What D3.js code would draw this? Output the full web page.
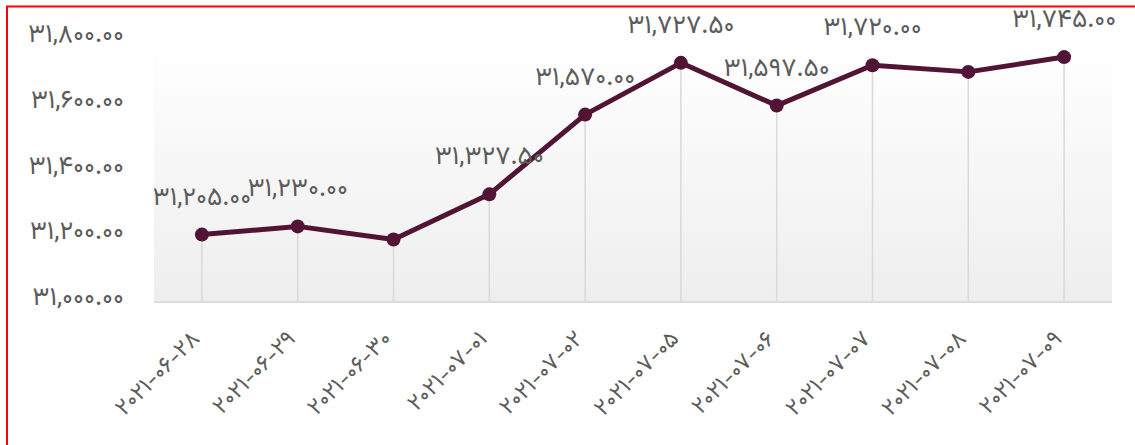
<!DOCTYPE html>
<html>
<head>
<meta charset="utf-8">
<script src="https://cdn.jsdelivr.net/npm/d3@7"></script>
<style>
  body { margin: 0; background: #fff; }
  svg { display: block; font-family: "Vazirmatn", "DejaVu Sans", sans-serif; }
</style>
</head>
<body>
<svg id="chart" width="1135" height="445"></svg>
<script>
const dates = ["2021-06-28", "2021-06-29", "2021-06-30", "2021-07-01", "2021-07-02",
  "2021-07-05", "2021-07-06", "2021-07-07", "2021-07-08", "2021-07-09"];
const prices = [31205, 31230, 31190, 31327.5, 31570, 31727.5, 31597.5, 31720, 31700, 31745];
// labels that the original chart shows (two are hidden there)
const showLabel = [true, true, false, true, true, true, true, true, false, true];
const yTicks = [31000, 31200, 31400, 31600, 31800];

const width = 1135, height = 445;
const margin = { top: 39, right: 23, bottom: 143, left: 154 };

const faDigits = "۰۱۲۳۴۵۶۷۸۹";
const toFa = (s) => String(s).replace(/[0-9]/g, (d) => faDigits[+d]);
const fmt = d3.format(",.2f");

const svg = d3.select("#chart");

// red frame of the host page
svg.append("path")
  .attr("d", `M7,${height + 10}V6.5H${width + 10}`)
  .attr("fill", "none")
  .attr("stroke", "#ff0000")
  .attr("stroke-width", 2);

const x = d3.scaleBand()
  .domain(dates)
  .range([margin.left, width - margin.right]);

const y = d3.scaleLinear()
  .domain([31000, 31800])
  .range([height - margin.bottom, margin.top]);

const defs = svg.append("defs");
const grad = defs.append("linearGradient")
  .attr("id", "bg")
  .attr("x1", 0).attr("y1", 0).attr("x2", 0).attr("y2", 1);
grad.append("stop").attr("offset", "0%").attr("stop-color", "#ffffff");
grad.append("stop").attr("offset", "100%").attr("stop-color", "#eeeeee");

svg.append("rect")
  .attr("x", margin.left)
  .attr("y", margin.top)
  .attr("width", width - margin.left - margin.right)
  .attr("height", height - margin.top - margin.bottom)
  .attr("fill", "url(#bg)");

// y axis labels
svg.append("g")
  .selectAll("text")
  .data(yTicks)
  .join("text")
  .attr("x", 124)
  .attr("y", (d) => y(d) + 3)
  .attr("text-anchor", "end")
  .attr("fill", "#5c5c5c")
  .style("font-size", "26px")
  .text((d) => toFa(fmt(d)));

const cx = (d) => x(d) + x.bandwidth() / 2;

// drop lines
svg.append("g")
  .selectAll("line")
  .data(dates)
  .join("line")
  .attr("x1", cx)
  .attr("x2", cx)
  .attr("y1", (d, i) => y(prices[i]))
  .attr("y2", height - margin.bottom)
  .attr("stroke", "#d9d9d9")
  .attr("stroke-width", 1.5);

// x axis baseline
svg.append("line")
  .attr("x1", margin.left)
  .attr("x2", width - margin.right)
  .attr("y1", height - margin.bottom)
  .attr("y2", height - margin.bottom)
  .attr("stroke", "#dcdcdc")
  .attr("stroke-width", 2);

// x axis labels
svg.append("g")
  .selectAll("text")
  .data(dates)
  .join("text")
  .attr("transform", (d) => `translate(${cx(d) - 1},${height - margin.bottom + 38}) rotate(-45)`)
  .attr("text-anchor", "end")
  .attr("fill", "#5c5c5c")
  .style("font-size", "23px")
  .text((d) => toFa(d));

const line = d3.line()
  .x((d, i) => cx(dates[i]))
  .y((d) => y(d));

svg.append("path")
  .datum(prices)
  .attr("d", line)
  .attr("fill", "none")
  .attr("stroke", "#521435")
  .attr("stroke-width", 5)
  .attr("stroke-linejoin", "round");

svg.append("g")
  .selectAll("circle")
  .data(prices)
  .join("circle")
  .attr("cx", (d, i) => cx(dates[i]))
  .attr("cy", (d) => y(d))
  .attr("r", 7)
  .attr("fill", "#521435");

// value labels
svg.append("g")
  .selectAll("text")
  .data(prices.map((p, i) => ({ p, i })).filter((d) => showLabel[d.i]))
  .join("text")
  .attr("x", (d) => cx(dates[d.i]))
  .attr("y", (d) => y(d.p) - 30)
  .attr("text-anchor", "middle")
  .attr("fill", "#5c5c5c")
  .style("font-size", "26px")
  .text((d) => toFa(fmt(d.p)));
</script>
</body>
</html>
